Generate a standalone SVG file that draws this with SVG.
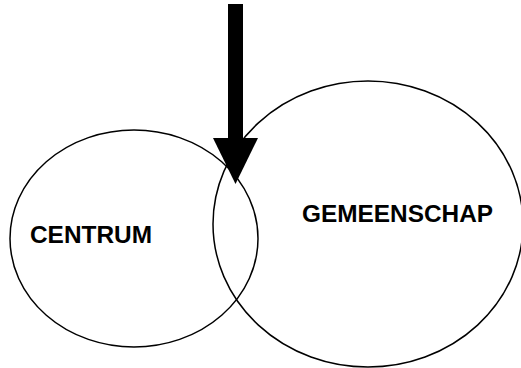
<svg xmlns="http://www.w3.org/2000/svg" width="521" height="368" viewBox="0 0 521 368">
<style>
.ring{fill:none;stroke:#000;stroke-width:1.5}
.lbl{font-family:"Liberation Sans",Arial,sans-serif;font-weight:bold;font-size:24px;fill:#000}
</style>
<rect width="521" height="368" fill="#fff"/>
<g id="centrum">
<ellipse class="ring" cx="134" cy="238.5" rx="124" ry="108.5"/>
<text class="lbl" x="30" y="243" textLength="122" lengthAdjust="spacingAndGlyphs">CENTRUM</text>
</g>
<g id="gemeenschap">
<ellipse class="ring" cx="368" cy="224" rx="155" ry="143"/>
<text class="lbl" x="302" y="222" textLength="191" lengthAdjust="spacingAndGlyphs">GEMEENSCHAP</text>
</g>
<g id="connectors">
<rect x="228" y="4" width="15" height="136" fill="#000"/>
<polygon points="213,138 258,138 235.5,184" fill="#000"/>
</g>
</svg>
